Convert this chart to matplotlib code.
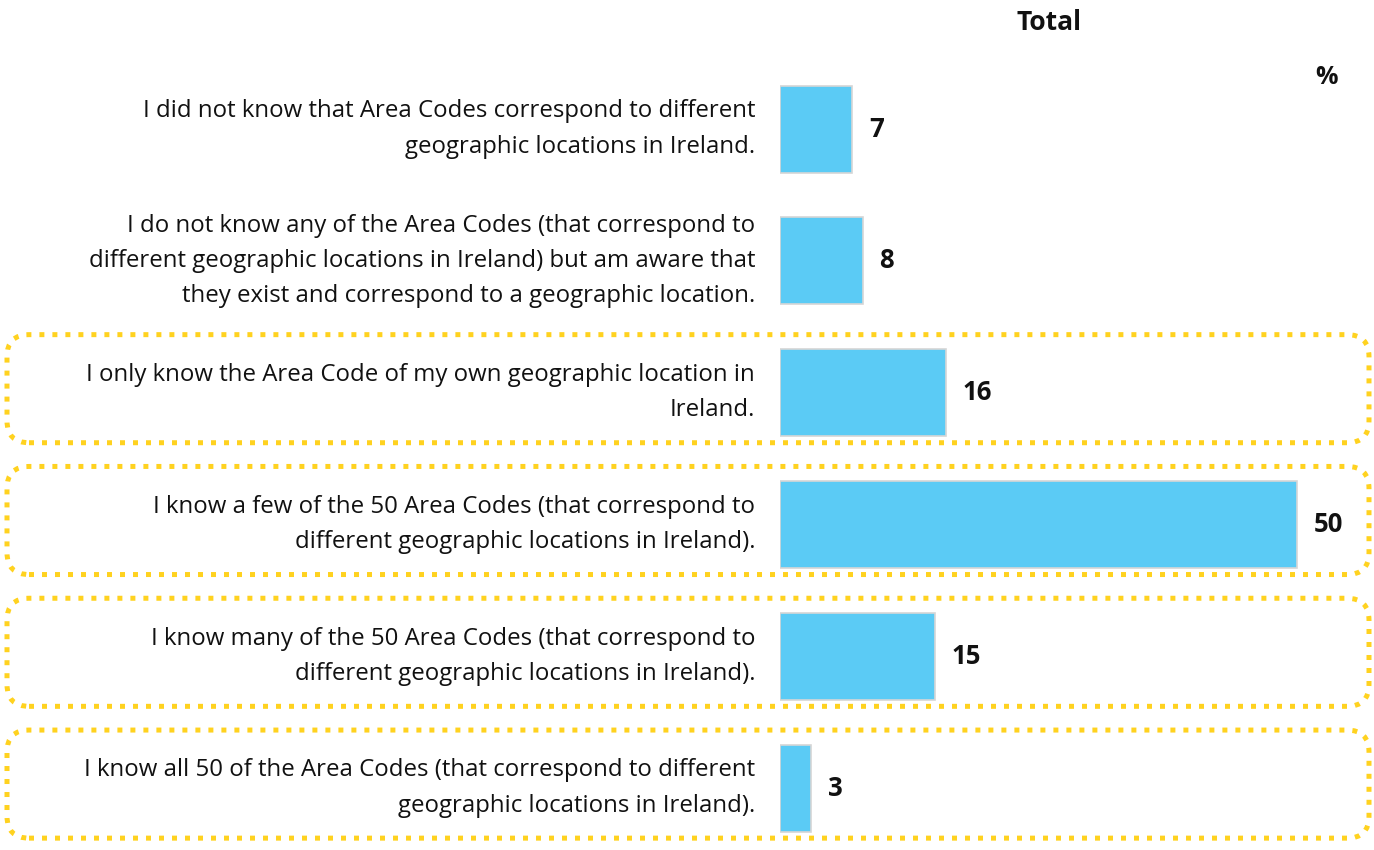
import matplotlib.pyplot as plt
import matplotlib.transforms as mtransforms
from matplotlib.patches import FancyBboxPatch

# Data
statements = [
    "I did not know that Area Codes correspond to different\ngeographic locations in Ireland.",
    "I do not know any of the Area Codes (that correspond to\ndifferent geographic locations in Ireland) but am aware that\nthey exist and correspond to a geographic location.",
    "I only know the Area Code of my own geographic location in\nIreland.",
    "I know a few of the 50 Area Codes (that correspond to\ndifferent geographic locations in Ireland).",
    "I know many of the 50 Area Codes (that correspond to\ndifferent geographic locations in Ireland).",
    "I know all 50 of the Area Codes (that correspond to different\ngeographic locations in Ireland).",
]
totals = [7, 8, 16, 50, 15, 3]
highlighted = [False, False, True, True, True, True]

plt.rcParams['font.family'] = ['Open Sans', 'DejaVu Sans']

W, H = 1374, 850
fig = plt.figure(figsize=(W / 100, H / 100), dpi=100)
ax = fig.add_axes([780 / W, 0, (W - 780) / W, 1])

pos = list(range(len(totals)))
ax.barh(pos, totals, height=0.66, color='#5BCBF5', edgecolor='#d6d6d6', linewidth=1.2)

ax.set_xlim(0, 57.4)
ax.set_ylim(5.47, -0.979)
ax.axis('off')

ytr = ax.get_yaxis_transform()
for i, (txt, v) in enumerate(zip(statements, totals)):
    ax.text(-0.042, i, txt, transform=ytr, ha='right', va='center',
            fontsize=17.3, linespacing=1.62, color='#111111')
    ax.text(v + 1.6, i, str(v), ha='left', va='center', fontsize=18.5,
            fontweight='bold', color='#111111')

fig.text(1049 / W, 1 - 22 / H, 'Total', ha='center', va='center',
         fontsize=19, fontweight='bold', color='#111111')
fig.text(1327 / W, 1 - 77 / H, '%', ha='center', va='center',
         fontsize=18, fontweight='bold', color='#111111')

# dotted rounded boxes around highlighted rows (in display pixels)
for i, hl in enumerate(highlighted):
    if not hl:
        continue
    _, ytop = ax.transData.transform((0, i - 0.44))
    _, ybot = ax.transData.transform((0, i + 0.38))
    box = FancyBboxPatch((7, ybot), 1362, ytop - ybot,
                         boxstyle='round,pad=0,rounding_size=22',
                         transform=mtransforms.IdentityTransform(),
                         fill=False, edgecolor='#FFD21F', linewidth=3.6,
                         linestyle=(0, (1, 1.6)), capstyle='butt')
    fig.patches.append(box)

fig.savefig('out.png', dpi=100)
